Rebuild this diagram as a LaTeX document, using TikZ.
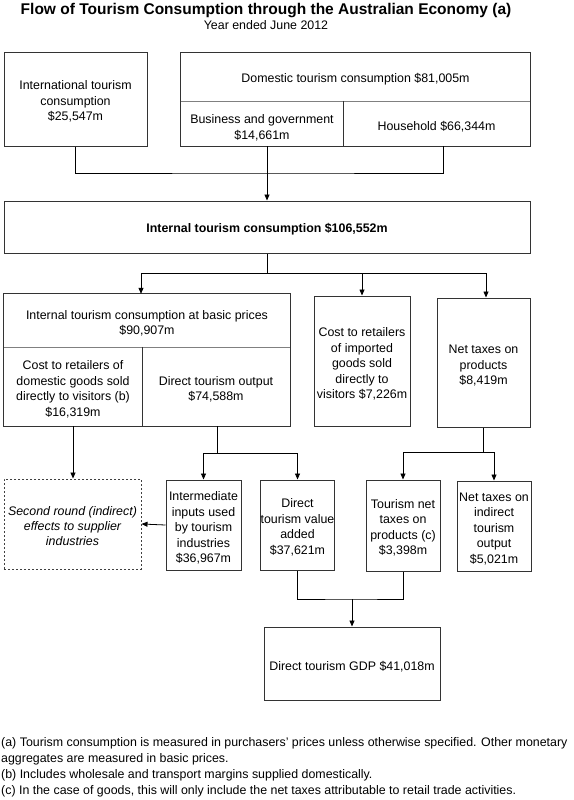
\documentclass[tikz,border=0pt]{standalone}
\usepackage{fontspec}
\setmainfont{Liberation Sans}
\usetikzlibrary{arrows.meta}
\newcommand\tx[2][3.5pt]{\raisebox{-#1}[\height][\depth]{\begin{tabular}{@{}c@{}}#2\end{tabular}}}
\begin{document}
\begin{tikzpicture}[x=1pt,y=-1pt,
  box/.style={draw=black!80, line width=1pt, inner sep=0pt,
    font=\fontsize{12.4}{15.5}\selectfont},
  cell/.style={inner sep=0pt, font=\fontsize{12.4}{15.5}\selectfont},
  conn/.style={line width=0.8pt, black},
  arr/.style={conn, -{Triangle[length=6pt,width=5pt]}},
  divider/.style={line width=1pt, black!50},
  vdivider/.style={line width=0.9pt, black!80}]
\useasboundingbox (0,0) rectangle (573,800);

% titles
\node (title) at (266,11) {\fontsize{15.5}{17}\selectfont\bfseries Flow of Tourism Consumption through the Australian Economy (a)};
\node (subtitle) at (266,25) {\fontsize{12.4}{14}\selectfont Year ended June 2012};

% top row
\node[box, minimum width=143pt, minimum height=93pt] (intl) at (75.5,99.5)
  {\tx[2.5pt]{International tourism\\consumption\\\$25,547m}};
\node[cell, minimum width=349pt, minimum height=48pt] (domtop) at (355.5,77)
  {\tx[2pt]{Domestic tourism consumption \$81,005m}};
\node[cell, minimum width=162pt, minimum height=45pt] (bus) at (262,123.5)
  {\tx[5pt]{Business and government\\\$14,661m}};
\node[cell, minimum width=187pt, minimum height=45pt] (hh) at (436.5,123.5)
  {\tx[4pt]{Household \$66,344m}};
\draw[line width=1pt, black!80] (domtop.north west) rectangle (hh.south east);
\draw[divider] (domtop.south west) -- (domtop.south east);
\draw[vdivider] (bus.north east) -- (bus.south east);

% internal
\node[box, minimum width=526pt, minimum height=52pt, font=\fontsize{12.4}{15.5}\selectfont\bfseries] (internal) at (267,227)
  {\tx[2pt]{Internal tourism consumption \$106,552m}};

% second row
\node[cell, minimum width=286pt, minimum height=53pt] (basic) at (147,320.5)
  {\tx{Internal tourism consumption at basic prices\\\$90,907m}};
\node[cell, minimum width=138pt, minimum height=79pt] (costdom) at (73,386.5)
  {\tx{Cost to retailers of\\domestic goods sold\\directly to visitors (b)\\\$16,319m}};
\node[cell, minimum width=148pt, minimum height=79pt] (dto) at (216,386.5)
  {\tx{Direct tourism output\\\$74,588m}};
\draw[line width=1pt, black!80] (basic.north west) rectangle (dto.south east);
\draw[divider] (basic.south west) -- (basic.south east);
\draw[vdivider] (costdom.north east) -- (costdom.south east);

\node[box, minimum width=96pt, minimum height=130pt] (imported) at (362,361)
  {\tx{Cost to retailers\\of imported\\goods sold\\directly to\\visitors \$7,226m}};
\node[box, minimum width=93pt, minimum height=129pt] (nettax) at (483.5,362.5)
  {\tx{Net taxes on\\products\\\$8,419m}};

% third row
\node[box, draw=black!75, dash pattern=on 2pt off 2pt, minimum width=137pt, minimum height=90pt, font=\fontsize{12.4}{15}\selectfont\itshape] (second) at (72.5,524)
  {\tx[3pt]{Second round (indirect)\\effects to supplier\\industries}};
\node[box, minimum width=75pt, minimum height=90pt] (inter) at (203.5,525)
  {\tx{Intermediate\\inputs used\\by tourism\\industries\\\$36,967m}};
\node[box, minimum width=73pt, minimum height=90pt] (dva) at (297.5,525)
  {\tx[3pt]{Direct\\tourism value\\added\\\$37,621m}};
\node[box, minimum width=74pt, minimum height=91pt] (tnt) at (403,525.5)
  {\tx[3pt]{Tourism net\\taxes on\\products (c)\\\$3,398m}};
\node[box, minimum width=74pt, minimum height=90pt] (nti) at (494,526)
  {\tx[3pt]{Net taxes on\\indirect\\tourism\\output\\\$5,021m}};

% bottom
\node[box, minimum width=176pt, minimum height=73pt] (gdp) at (352,663.5)
  {\tx{Direct tourism GDP \$41,018m}};

% junctions
\coordinate (j1) at (267,173);
\coordinate (j2) at (267,273);
\coordinate (j3) at (217,453);
\coordinate (j4) at (483.5,452);
\coordinate (j5) at (352,599);

% connectors
\draw[conn] (intl.south) |- (j1) -| ([xshift=6.5pt]hh.south);
\draw[arr] (internal.north |- bus.south) -- (internal.north);
\draw[conn] (internal.south) -- (j2);
\draw[arr] (j2) -| ([xshift=-6pt]basic.north);
\draw[arr] (j2) -| (imported.north);
\draw[arr] (j2) -| ([xshift=2.5pt]nettax.north);
\draw[arr] (costdom.south) -- (costdom.south |- second.north);
\draw[conn] (dto.south -| j3) -- (j3);
\draw[arr] (j3) -| (inter.north);
\draw[arr] (j3) -| (dva.north);
\draw[arr] (inter.west) -- (second.east);
\draw[conn] (nettax.south) -- (j4);
\draw[arr] (j4) -| (tnt.north);
\draw[arr] (j4) -| (nti.north);
\draw[conn] (dva.south) |- (j5) -| (tnt.south);
\draw[arr] (j5) -- (gdp.north);

% footnotes
\node[anchor=north west, align=left, inner sep=0pt, font=\fontsize{12.4}{16}\selectfont] (notes) at (1,737)
  {(a) Tourism consumption is measured in purchasers' prices unless otherwise specified. Other monetary\\
   aggregates are measured in basic prices.\\
   (b) Includes wholesale and transport margins supplied domestically.\\
   (c) In the case of goods, this will only include the net taxes attributable to retail trade activities.};
\end{tikzpicture}
\end{document}
